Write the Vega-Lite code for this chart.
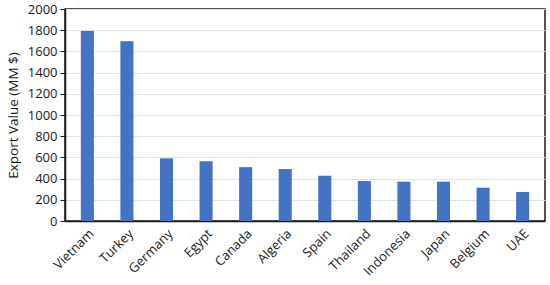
{
  "$schema": "https://vega.github.io/schema/vega-lite/v6.json",
  "width": 480,
  "height": 212,
  "autosize": "none",
  "padding": {"left": 65, "top": 9, "right": 5, "bottom": 64},
  "background": "white",
  "data": {"values": [
    {"country": "Vietnam", "value": 1792},
    {"country": "Turkey", "value": 1695},
    {"country": "Germany", "value": 591},
    {"country": "Egypt", "value": 564},
    {"country": "Canada", "value": 508},
    {"country": "Algeria", "value": 490},
    {"country": "Spain", "value": 427},
    {"country": "Thailand", "value": 377},
    {"country": "Indonesia", "value": 371},
    {"country": "Japan", "value": 371},
    {"country": "Belgium", "value": 314},
    {"country": "UAE", "value": 274}
  ]},
  "mark": {"type": "bar", "color": "#4472C4"},
  "encoding": {
    "x": {
      "field": "country", "type": "nominal", "sort": null,
      "scale": {"paddingInner": 0.67, "paddingOuter": 0.4},
      "axis": {"title": null, "labelAngle": -45, "labelAlign": "right", "labelBaseline": "top",
               "labelFont": "Open Sans", "labelFontSize": 13, "labelColor": "#1a1a1a",
               "ticks": false, "domainColor": "#1a1a1a", "domainWidth": 1.5, "labelPadding": 6}
    },
    "y": {
      "field": "value", "type": "quantitative",
      "scale": {"domain": [0, 2000]},
      "axis": {"title": "Export Value (MM $)", "titleFont": "Open Sans", "titleFontSize": 13.5,
               "titleFontWeight": "normal", "titleColor": "#1a1a1a", "titlePadding": 7,
               "values": [0,200,400,600,800,1000,1200,1400,1600,1800,2000], "format": "d",
               "labelFont": "Open Sans", "labelFontSize": 13, "labelColor": "#1a1a1a",
               "tickColor": "#1a1a1a", "tickSize": 5, "domainColor": "#1a1a1a", "domainWidth": 1.5,
               "gridColor": "#e3e3e3", "labelPadding": 3}
    }
  },
  "config": {
    "view": {"stroke": "#1a1a1a", "strokeWidth": 1.5}
  }
}
